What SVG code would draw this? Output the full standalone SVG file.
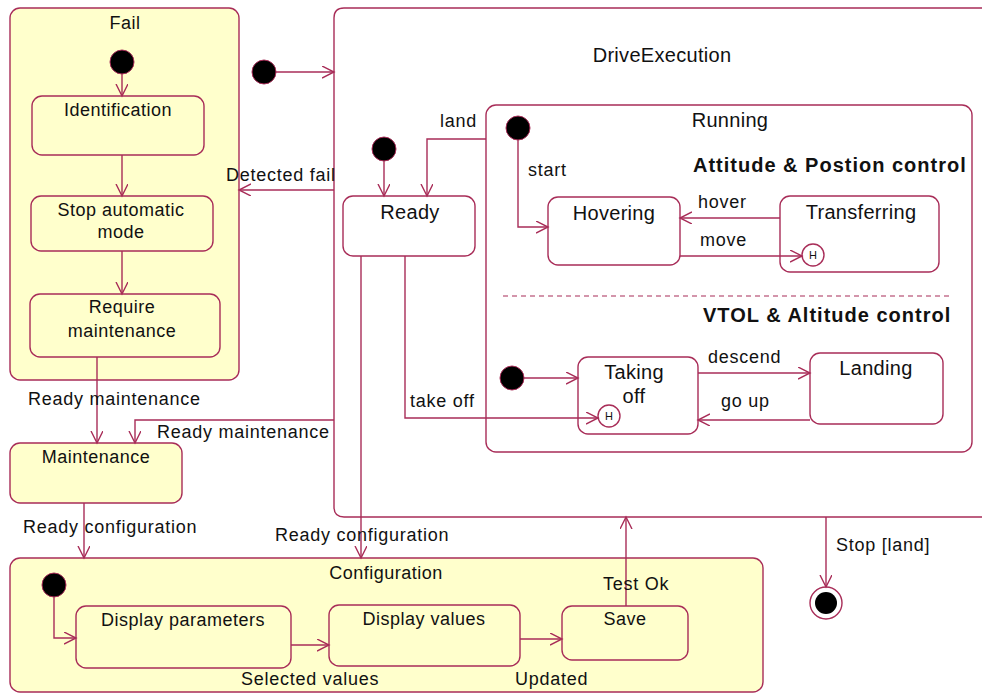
<svg xmlns="http://www.w3.org/2000/svg" width="982" height="693" viewBox="0 0 982 693">
<style>
.st{fill:#ffffcc;stroke:#a82d58;stroke-width:1.4}
.sw{fill:#ffffff;stroke:#a82d58;stroke-width:1.4}
.cn{fill:none;stroke:#a82d58;stroke-width:1.4}
.ini{fill:#000;stroke:#a82d58;stroke-width:1}
text{font-family:"Liberation Sans",Arial,sans-serif;fill:#111}
.n{font-size:18px;text-anchor:middle;letter-spacing:0.5px}
.nb{font-size:20px;text-anchor:middle;letter-spacing:0.3px}
.l{font-size:18px;letter-spacing:0.75px}
.b{font-size:20px;font-weight:bold;letter-spacing:1px}
.h{font-size:11px;text-anchor:middle}
</style>
<defs>
<marker id="a" markerUnits="userSpaceOnUse" markerWidth="14" markerHeight="14" refX="12" refY="6" orient="auto">
<path d="M0,0 L12,6 L0,12" fill="none" stroke="#a82d58" stroke-width="1.4"/>
</marker>
</defs>
<g id="Fail">
<rect class="st" x="10" y="8" width="229" height="372" rx="10"/>
<text class="n" x="125" y="29">Fail</text>
<circle class="ini" cx="122" cy="62" r="12"/>
</g>
<g id="Identification">
<rect class="st" x="32" y="96" width="172" height="59" rx="10"/>
<text class="n" x="118" y="116">Identification</text>
</g>
<g id="StopAutomaticMode">
<rect class="st" x="31" y="196" width="182" height="55" rx="10"/>
<text class="n" x="121" y="216">Stop automatic</text>
<text class="n" x="121" y="238">mode</text>
</g>
<g id="RequireMaintenance">
<rect class="st" x="30" y="294" width="190" height="63" rx="10"/>
<text class="n" x="122" y="313">Require</text>
<text class="n" x="122" y="337">maintenance</text>
</g>
<g id="Maintenance">
<rect class="st" x="10" y="443" width="172" height="60" rx="10"/>
<text class="n" x="96" y="463">Maintenance</text>
</g>
<g id="DriveExecution">
<path class="sw" d="M995,8 H344 Q334,8 334,18 V507 Q334,517 344,517 H995"/>
<text class="nb" x="662" y="62">DriveExecution</text>
<circle class="ini" cx="264" cy="72" r="12"/>
<circle class="ini" cx="384" cy="149" r="12"/>
</g>
<g id="Running">
<rect class="sw" x="486" y="105" width="486" height="347" rx="10"/>
<text class="nb" x="730" y="127">Running</text>
<circle class="ini" cx="518" cy="128" r="12"/>
<circle class="ini" cx="512" cy="378" r="12"/>
<line x1="503" y1="296" x2="950" y2="296" stroke="#a82d58" stroke-width="1.2" stroke-dasharray="5,4"/>
<text class="b" x="693" y="172">Attitude &amp; Postion control</text>
<text class="b" x="703" y="322">VTOL &amp; Altitude control</text>
</g>
<g id="Ready">
<rect class="sw" x="343" y="196" width="132" height="60" rx="10"/>
<text class="nb" x="410" y="219">Ready</text>
</g>
<g id="Hovering">
<rect class="sw" x="548" y="197" width="132" height="68" rx="10"/>
<text class="nb" x="614" y="220">Hovering</text>
</g>
<g id="Transferring">
<rect class="sw" x="780" y="196" width="159" height="76" rx="10"/>
<text class="nb" x="861" y="219">Transferring</text>
<circle class="sw" cx="813" cy="255" r="11"/>
<text class="h" x="813" y="259">H</text>
</g>
<g id="TakingOff">
<rect class="sw" x="578" y="357" width="120" height="77" rx="10"/>
<text class="nb" x="634" y="379">Taking</text>
<text class="nb" x="634" y="403">off</text>
<circle class="sw" cx="609" cy="416" r="11"/>
<text class="h" x="609" y="420">H</text>
</g>
<g id="Landing">
<rect class="sw" x="810" y="353" width="133" height="71" rx="10"/>
<text class="nb" x="876" y="375">Landing</text>
</g>
<g id="Configuration">
<rect class="st" x="10" y="558" width="753" height="134" rx="10"/>
<text class="n" x="386" y="579">Configuration</text>
<circle class="ini" cx="54" cy="585" r="12"/>
</g>
<g id="DisplayParameters">
<rect class="st" x="76" y="606" width="215" height="62" rx="10"/>
<text class="n" x="183" y="626">Display parameters</text>
</g>
<g id="DisplayValues">
<rect class="st" x="329" y="605" width="191" height="61" rx="10"/>
<text class="n" x="424" y="625">Display values</text>
</g>
<g id="Save">
<rect class="st" x="562" y="606" width="126" height="54" rx="10"/>
<text class="n" x="625" y="625">Save</text>
</g>
<g id="Final">
<circle cx="826" cy="603" r="16" fill="#fff" stroke="#a82d58" stroke-width="1.4"/>
<circle cx="826" cy="603" r="11" fill="#000"/>
</g>
<g id="connectors">
<path class="cn" marker-end="url(#a)" d="M122,74 V96"/>
<path class="cn" marker-end="url(#a)" d="M122,155 V196"/>
<path class="cn" marker-end="url(#a)" d="M122,251 V294"/>
<path class="cn" marker-end="url(#a)" d="M97,357 V443"/>
<path class="cn" marker-end="url(#a)" d="M334,420 H135 V443"/>
<path class="cn" marker-end="url(#a)" d="M84,503 V558"/>
<path class="cn" marker-end="url(#a)" d="M276,72 H334"/>
<path class="cn" marker-end="url(#a)" d="M334,190 H239"/>
<path class="cn" marker-end="url(#a)" d="M384,161 V196"/>
<path class="cn" marker-end="url(#a)" d="M486,139 H427 V196"/>
<path class="cn" marker-end="url(#a)" d="M518,140 V227 H548"/>
<path class="cn" marker-end="url(#a)" d="M780,218 H680"/>
<path class="cn" marker-end="url(#a)" d="M680,256 H802"/>
<path class="cn" marker-end="url(#a)" d="M524,378 H578"/>
<path class="cn" marker-end="url(#a)" d="M405,256 V418 H598"/>
<path class="cn" marker-end="url(#a)" d="M698,373 H810"/>
<path class="cn" marker-end="url(#a)" d="M810,420 H698"/>
<path class="cn" marker-end="url(#a)" d="M361,256 V558"/>
<path class="cn" marker-end="url(#a)" d="M54,597 V638 H76"/>
<path class="cn" marker-end="url(#a)" d="M291,645 H329"/>
<path class="cn" marker-end="url(#a)" d="M520,639 H562"/>
<path class="cn" marker-end="url(#a)" d="M626,606 V517"/>
<path class="cn" marker-end="url(#a)" d="M826,517 V587"/>
<text class="l" x="28" y="405">Ready maintenance</text>
<text class="l" x="157" y="438">Ready maintenance</text>
<text class="l" x="23" y="533">Ready configuration</text>
<text class="l" x="275" y="541">Ready configuration</text>
<text class="l" x="226" y="181">Detected fail</text>
<text class="l" x="440" y="127">land</text>
<text class="l" x="528" y="176">start</text>
<text class="l" x="698" y="208">hover</text>
<text class="l" x="700" y="246">move</text>
<text class="l" x="410" y="407">take off</text>
<text class="l" x="708" y="363">descend</text>
<text class="l" x="721" y="407">go up</text>
<text class="l" x="241" y="685">Selected values</text>
<text class="l" x="515" y="685">Updated</text>
<text class="l" x="603" y="590">Test Ok</text>
<text class="l" x="836" y="551">Stop [land]</text>
</g>
</svg>
